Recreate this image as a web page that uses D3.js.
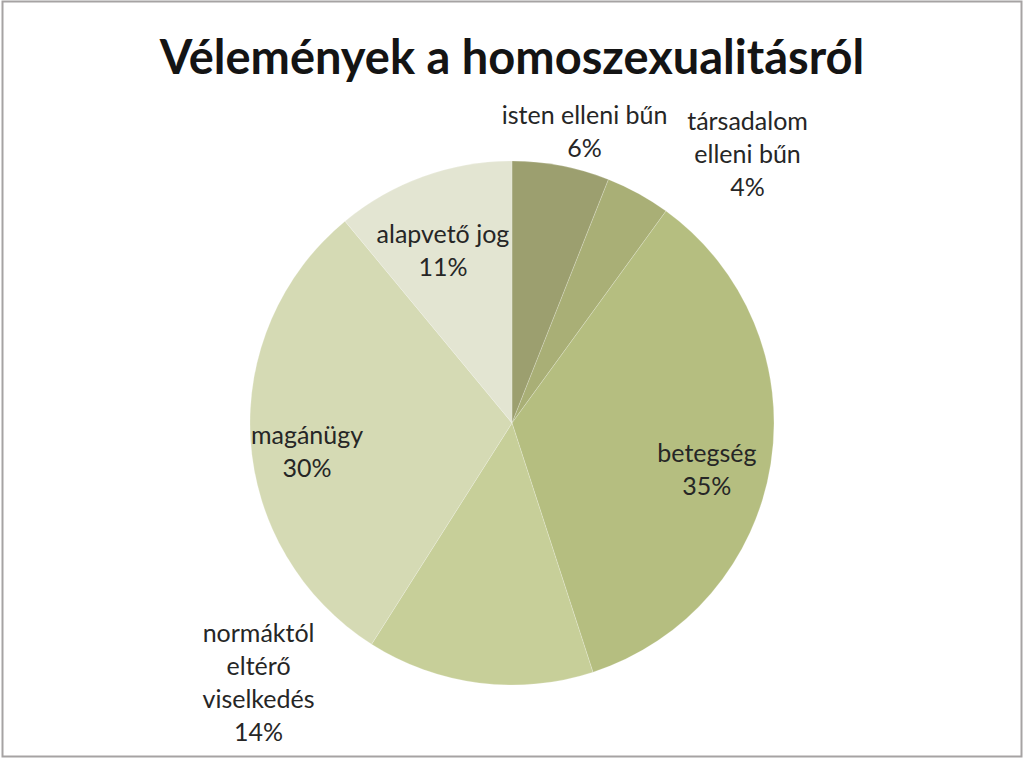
<!DOCTYPE html>
<html lang="hu">
<head>
    <meta charset="UTF-8">
    <title>Vélemények a homoszexualitásról</title>
    <script src="https://d3js.org/d3.v7.min.js"></script>
    <style>
        body {
            margin: 0;
            padding: 0;
            background-color: #fff;
        }
        svg text {
            font-family: Lato, "Open Sans", sans-serif;
            fill: #262626;
        }
    </style>
</head>
<body>
    <div id="chart"></div>

    <script>
        // adatok
        const categories = ['isten elleni bűn', 'társadalom elleni bűn', 'betegség', 'normáktól eltérő viselkedés', 'magánügy', 'alapvető jog'];
        const values = [6, 4, 35, 14, 30, 11];
        const labelLines = [
            ['isten elleni bűn'],
            ['társadalom', 'elleni bűn'],
            ['betegség'],
            ['normáktól', 'eltérő', 'viselkedés'],
            ['magánügy'],
            ['alapvető jog']
        ];
        const chartTitle = 'Vélemények a homoszexualitásról';

        const colors = ['#9c9f6f', '#a9af76', '#b5be80', '#c7cf99', '#d5dab4', '#e3e5d2'];
        // címkék helye: [szög fokban, távolság a sugár arányában]
        const labelPlace = [[14, 1.145], [41.2, 1.365], [103.5, 0.765], [224.3, 1.385], [262, 0.79], [338.2, 0.71]];

        const width = 1024, height = 760;
        const cx = 512, cy = 423, radius = 262;
        const lineH = 33;

        const svg = d3.select('#chart')
            .append('svg')
            .attr('width', width)
            .attr('height', height);

        // keret
        svg.append('rect')
            .attr('x', 2.5)
            .attr('y', 1.5)
            .attr('width', 1019)
            .attr('height', 755)
            .attr('fill', '#fff')
            .attr('stroke', '#a6a3a3')
            .attr('stroke-width', 2);

        svg.append('text')
            .attr('x', cx)
            .attr('y', 74)
            .attr('text-anchor', 'middle')
            .style('font-size', '47px')
            .style('font-weight', 'bold')
            .style('fill', '#141414')
            .text(chartTitle);

        const pie = d3.pie().sort(null).value(d => d);
        const arcs = pie(values);
        const arc = d3.arc().innerRadius(0).outerRadius(radius);

        const g = svg.append('g')
            .attr('transform', `translate(${cx},${cy})`);

        g.selectAll('path')
            .data(arcs)
            .enter()
            .append('path')
            .attr('d', arc)
            .attr('fill', (d, i) => colors[i])
            .attr('stroke', 'rgba(255,255,255,0.2)')
            .attr('stroke-width', 1);

        // címkék
        arcs.forEach((d, i) => {
            const a = labelPlace[i][0] * Math.PI / 180;
            const r = labelPlace[i][1] * radius;
            const x = r * Math.sin(a);
            const y = -r * Math.cos(a);
            const lines = labelLines[i].concat([values[i] + '%']);
            const top = y - (lines.length - 1) * lineH / 2;
            const t = g.append('text')
                .attr('text-anchor', 'middle')
                .style('font-size', '25px');
            lines.forEach((s, j) => {
                t.append('tspan')
                    .attr('x', x)
                    .attr('y', top + j * lineH)
                    .attr('dy', '0.35em')
                    .text(s);
            });
        });
    </script>
</body>
</html>
